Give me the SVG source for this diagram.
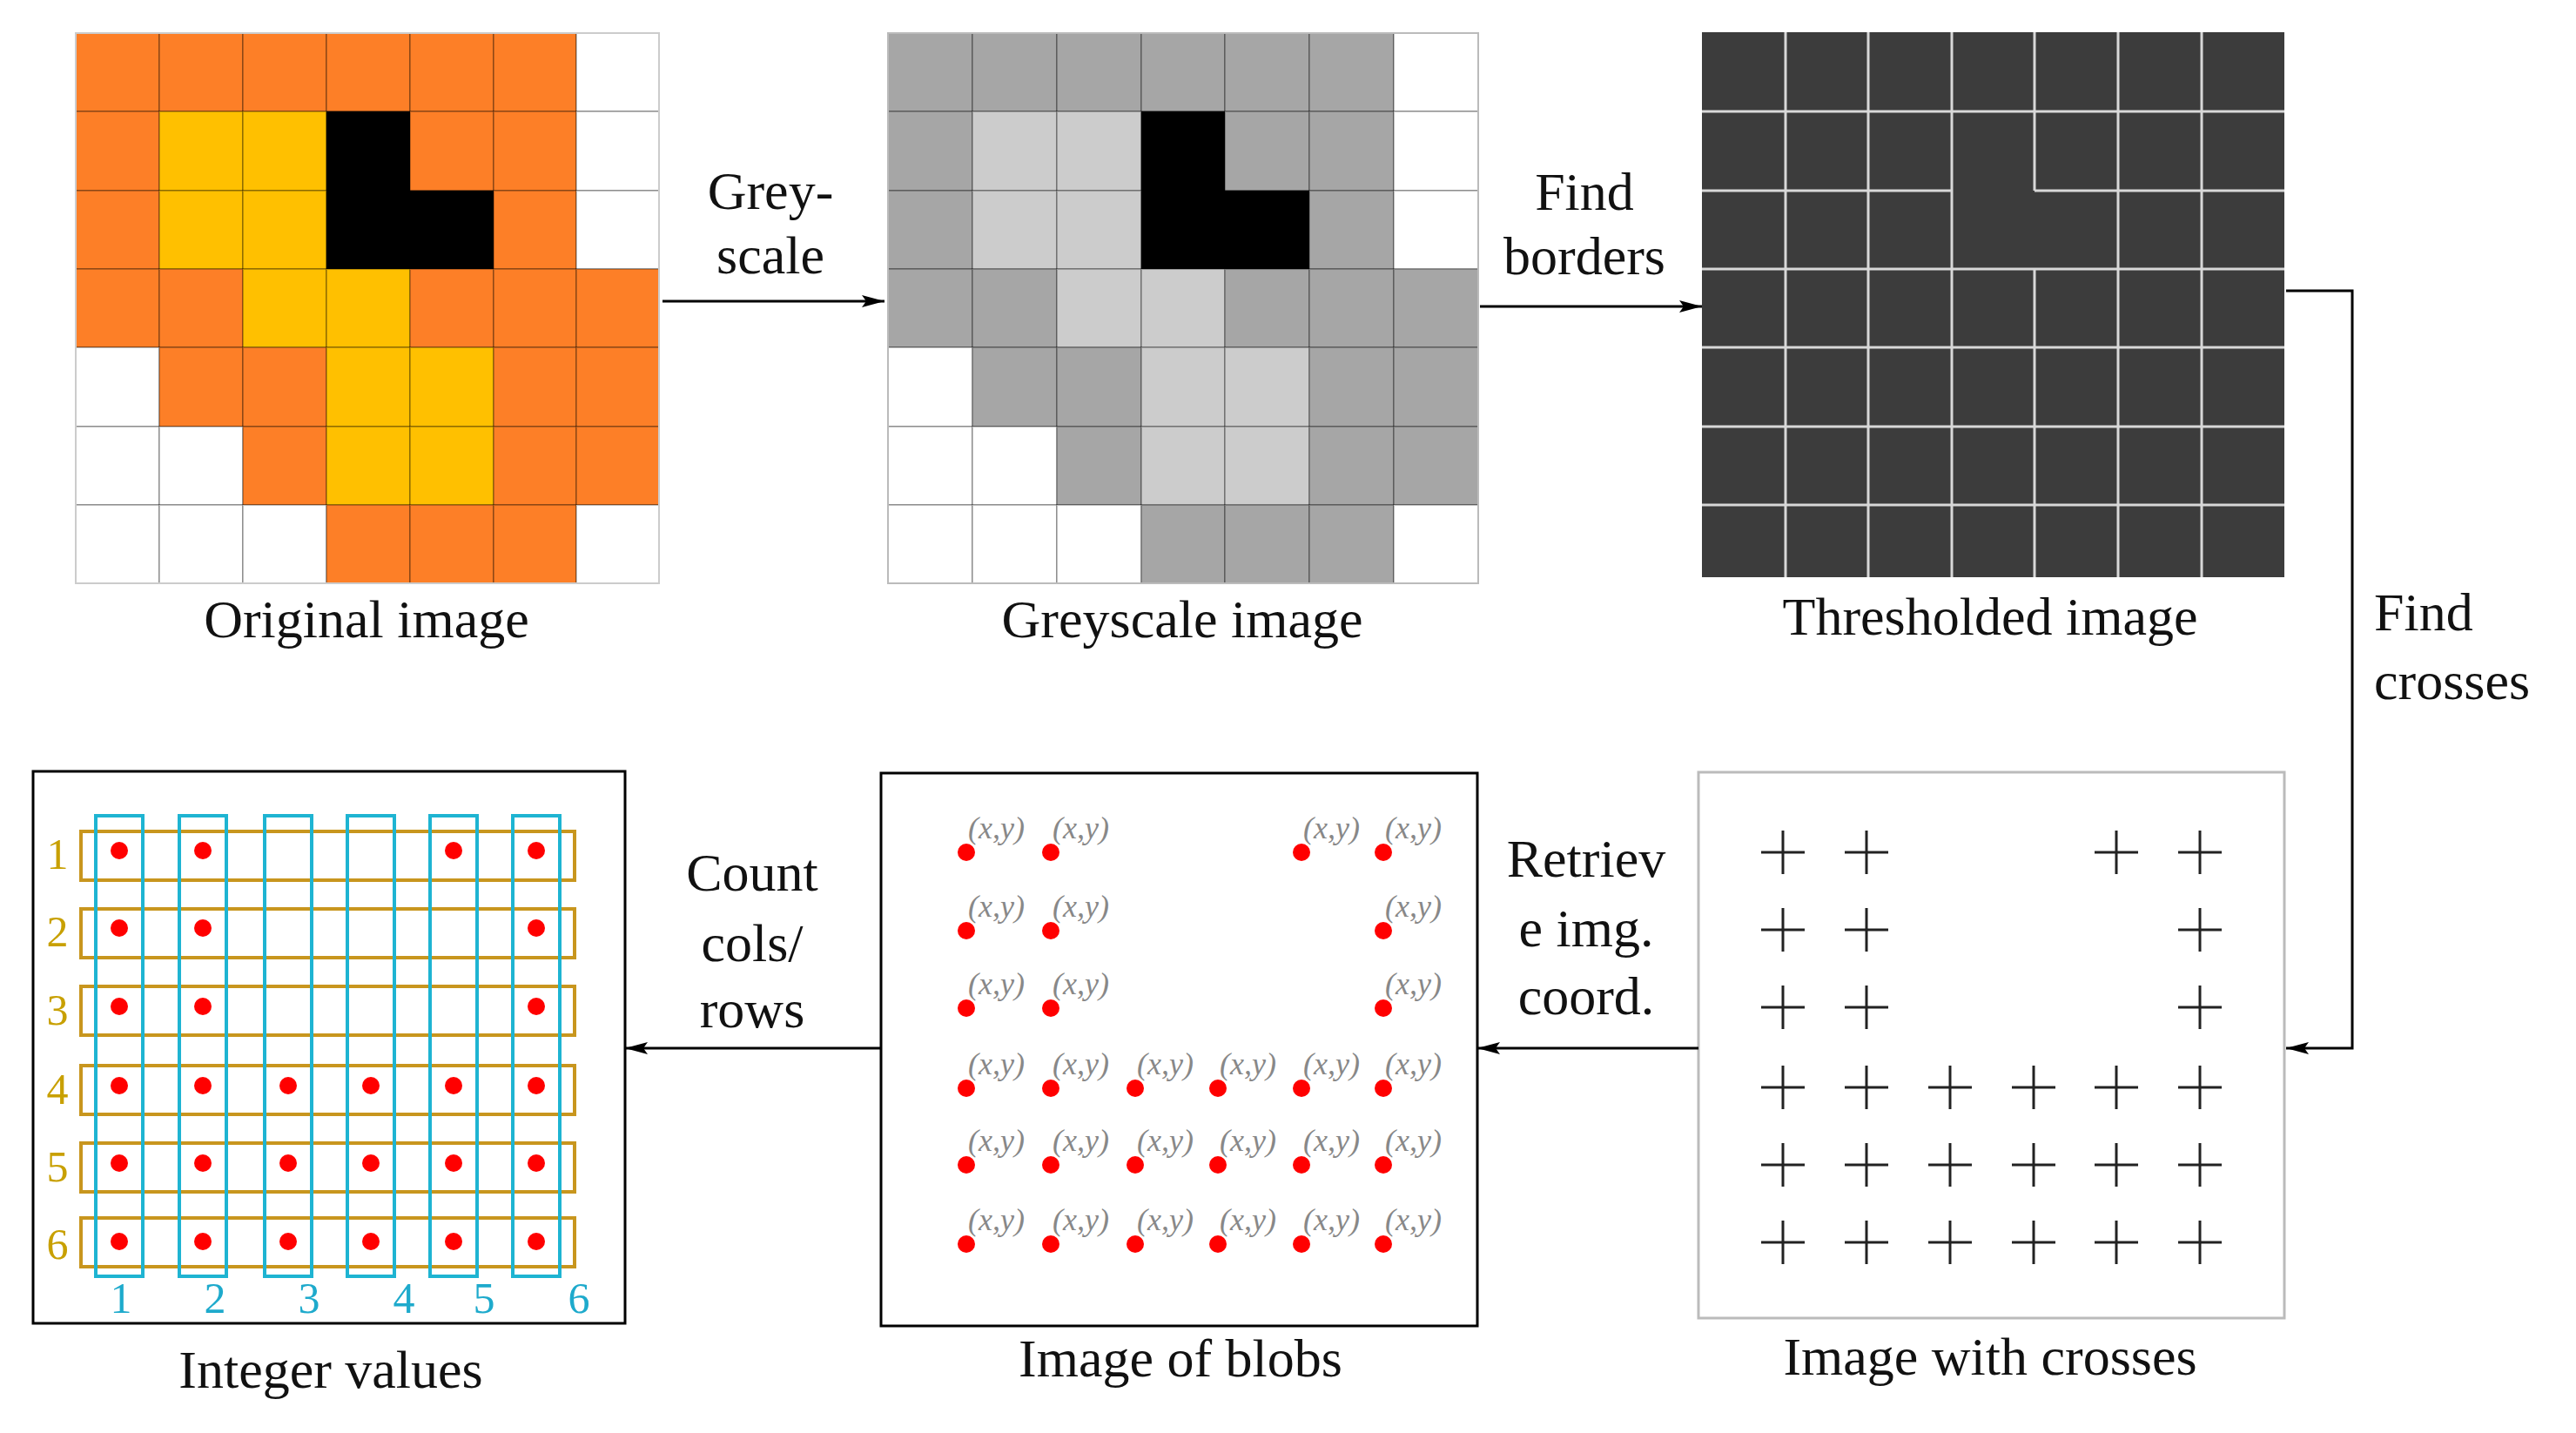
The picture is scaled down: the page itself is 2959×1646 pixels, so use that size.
<svg xmlns="http://www.w3.org/2000/svg" width="2959" height="1646" viewBox="0 0 2959 1646">
<style>
.t{font-family:"Liberation Serif","DejaVu Serif",serif;font-size:62px;fill:#111;text-anchor:middle}
.xy{font-family:"Liberation Serif",serif;font-style:italic;font-size:36px;fill:#888}
.c{stroke:#222;stroke-width:3}
.ln{stroke:#000;stroke-width:3;fill:none}
.O{fill:#fd7f27}.Y{fill:#ffc000}.K{fill:#000}.W{fill:#fff}.G{fill:#a6a6a6}.L{fill:#cccccc}
.cell{stroke:rgba(0,0,0,0.25);stroke-width:2}
.dot{fill:#f00}
.col{fill:none;stroke:#1eb4d2;stroke-width:4}
.row{fill:none;stroke:#c8961e;stroke-width:4}
.rl{font-family:"Liberation Serif",serif;font-size:50px;fill:#c8a000;text-anchor:middle}
.cl{font-family:"Liberation Serif",serif;font-size:50px;fill:#1eaacc;text-anchor:middle}
</style>
<defs>
<marker id="ah" viewBox="0 0 10 10" refX="10" refY="5" markerWidth="10" markerHeight="8" markerUnits="userSpaceOnUse" orient="auto" style="overflow:visible">
<path d="M0,0 L10,5 L0,10 z" fill="#000" transform="scale(2.6,1.2) translate(-6,0)"/>
</marker>
<marker id="a2" viewBox="0 0 26 14" refX="26" refY="7" markerWidth="26" markerHeight="14" markerUnits="userSpaceOnUse" orient="auto">
<path d="M0,0 L26,7 L0,14 L5,7 z" fill="#000"/>
</marker>
</defs>
<rect width="2959" height="1646" fill="#fff"/>

<g id="original">
<g class="cell">
<rect class="O" x="87" y="38" width="96" height="90"/><rect class="O" x="183" y="38" width="96" height="90"/><rect class="O" x="279" y="38" width="96" height="90"/><rect class="O" x="375" y="38" width="96" height="90"/><rect class="O" x="471" y="38" width="96" height="90"/><rect class="O" x="567" y="38" width="95" height="90"/><rect class="W" x="662" y="38" width="95" height="90"/>
<rect class="O" x="87" y="128" width="96" height="91"/><rect class="Y" x="183" y="128" width="96" height="91"/><rect class="Y" x="279" y="128" width="96" height="91"/><rect class="K" x="375" y="128" width="96" height="91"/><rect class="O" x="471" y="128" width="96" height="91"/><rect class="O" x="567" y="128" width="95" height="91"/><rect class="W" x="662" y="128" width="95" height="91"/>
<rect class="O" x="87" y="219" width="96" height="90"/><rect class="Y" x="183" y="219" width="96" height="90"/><rect class="Y" x="279" y="219" width="96" height="90"/><rect class="K" x="375" y="219" width="96" height="90"/><rect class="K" x="471" y="219" width="96" height="90"/><rect class="O" x="567" y="219" width="95" height="90"/><rect class="W" x="662" y="219" width="95" height="90"/>
<rect class="O" x="87" y="309" width="96" height="90"/><rect class="O" x="183" y="309" width="96" height="90"/><rect class="Y" x="279" y="309" width="96" height="90"/><rect class="Y" x="375" y="309" width="96" height="90"/><rect class="O" x="471" y="309" width="96" height="90"/><rect class="O" x="567" y="309" width="95" height="90"/><rect class="O" x="662" y="309" width="95" height="90"/>
<rect class="W" x="87" y="399" width="96" height="91"/><rect class="O" x="183" y="399" width="96" height="91"/><rect class="O" x="279" y="399" width="96" height="91"/><rect class="Y" x="375" y="399" width="96" height="91"/><rect class="Y" x="471" y="399" width="96" height="91"/><rect class="O" x="567" y="399" width="95" height="91"/><rect class="O" x="662" y="399" width="95" height="91"/>
<rect class="W" x="87" y="490" width="96" height="90"/><rect class="W" x="183" y="490" width="96" height="90"/><rect class="O" x="279" y="490" width="96" height="90"/><rect class="Y" x="375" y="490" width="96" height="90"/><rect class="Y" x="471" y="490" width="96" height="90"/><rect class="O" x="567" y="490" width="95" height="90"/><rect class="O" x="662" y="490" width="95" height="90"/>
<rect class="W" x="87" y="580" width="96" height="90"/><rect class="W" x="183" y="580" width="96" height="90"/><rect class="W" x="279" y="580" width="96" height="90"/><rect class="O" x="375" y="580" width="96" height="90"/><rect class="O" x="471" y="580" width="96" height="90"/><rect class="O" x="567" y="580" width="95" height="90"/><rect class="W" x="662" y="580" width="95" height="90"/>
</g>
<rect x="87" y="38" width="670" height="632" fill="none" stroke="#ccc" stroke-width="2"/>
<text class="t" x="421" y="732">Original image</text>
</g>

<g id="greyscale">
<g class="cell">
<rect class="G" x="1020" y="38" width="97" height="90"/><rect class="G" x="1117" y="38" width="97" height="90"/><rect class="G" x="1214" y="38" width="97" height="90"/><rect class="G" x="1311" y="38" width="96" height="90"/><rect class="G" x="1407" y="38" width="97" height="90"/><rect class="G" x="1504" y="38" width="97" height="90"/><rect class="W" x="1601" y="38" width="97" height="90"/>
<rect class="G" x="1020" y="128" width="97" height="91"/><rect class="L" x="1117" y="128" width="97" height="91"/><rect class="L" x="1214" y="128" width="97" height="91"/><rect class="K" x="1311" y="128" width="96" height="91"/><rect class="G" x="1407" y="128" width="97" height="91"/><rect class="G" x="1504" y="128" width="97" height="91"/><rect class="W" x="1601" y="128" width="97" height="91"/>
<rect class="G" x="1020" y="219" width="97" height="90"/><rect class="L" x="1117" y="219" width="97" height="90"/><rect class="L" x="1214" y="219" width="97" height="90"/><rect class="K" x="1311" y="219" width="96" height="90"/><rect class="K" x="1407" y="219" width="97" height="90"/><rect class="G" x="1504" y="219" width="97" height="90"/><rect class="W" x="1601" y="219" width="97" height="90"/>
<rect class="G" x="1020" y="309" width="97" height="90"/><rect class="G" x="1117" y="309" width="97" height="90"/><rect class="L" x="1214" y="309" width="97" height="90"/><rect class="L" x="1311" y="309" width="96" height="90"/><rect class="G" x="1407" y="309" width="97" height="90"/><rect class="G" x="1504" y="309" width="97" height="90"/><rect class="G" x="1601" y="309" width="97" height="90"/>
<rect class="W" x="1020" y="399" width="97" height="91"/><rect class="G" x="1117" y="399" width="97" height="91"/><rect class="G" x="1214" y="399" width="97" height="91"/><rect class="L" x="1311" y="399" width="96" height="91"/><rect class="L" x="1407" y="399" width="97" height="91"/><rect class="G" x="1504" y="399" width="97" height="91"/><rect class="G" x="1601" y="399" width="97" height="91"/>
<rect class="W" x="1020" y="490" width="97" height="90"/><rect class="W" x="1117" y="490" width="97" height="90"/><rect class="G" x="1214" y="490" width="97" height="90"/><rect class="L" x="1311" y="490" width="96" height="90"/><rect class="L" x="1407" y="490" width="97" height="90"/><rect class="G" x="1504" y="490" width="97" height="90"/><rect class="G" x="1601" y="490" width="97" height="90"/>
<rect class="W" x="1020" y="580" width="97" height="90"/><rect class="W" x="1117" y="580" width="97" height="90"/><rect class="W" x="1214" y="580" width="97" height="90"/><rect class="G" x="1311" y="580" width="96" height="90"/><rect class="G" x="1407" y="580" width="97" height="90"/><rect class="G" x="1504" y="580" width="97" height="90"/><rect class="W" x="1601" y="580" width="97" height="90"/>
</g>
<rect x="1020" y="38" width="678" height="632" fill="none" stroke="#bbb" stroke-width="2"/>
<text class="t" x="1358" y="732">Greyscale image</text>
</g>

<g id="thresholded">
<rect x="1955" y="37" width="669" height="626" fill="#3c3c3c"/>
<g stroke="#d8d8d8" stroke-width="3" fill="none">
<path d="M2051,37V663M2146,37V663M2242,37V663M2433,37V663M2529,37V663M2337,37V219M2337,309V663"/>
<path d="M1955,128H2624M1955,219H2242M2337,219H2624M1955,309H2624M1955,399H2624M1955,490H2624M1955,580H2624"/>
</g>
<text class="t" x="2286" y="729">Thresholded image</text>
</g>

<g id="crosses">
<rect x="1951" y="887" width="673" height="627" fill="#fff" stroke="#bbb" stroke-width="3"/>
<g class="c">
<path d="M2023,979h50M2048,954v50M2119,979h50M2144,954v50M2406,979h50M2431,954v50M2502,979h50M2527,954v50"/>
<path d="M2023,1068h50M2048,1043v50M2119,1068h50M2144,1043v50M2502,1068h50M2527,1043v50"/>
<path d="M2023,1157h50M2048,1132v50M2119,1157h50M2144,1132v50M2502,1157h50M2527,1132v50"/>
<path d="M2023,1249h50M2048,1224v50M2119,1249h50M2144,1224v50M2215,1249h50M2240,1224v50M2311,1249h50M2336,1224v50M2406,1249h50M2431,1224v50M2502,1249h50M2527,1224v50"/>
<path d="M2023,1338h50M2048,1313v50M2119,1338h50M2144,1313v50M2215,1338h50M2240,1313v50M2311,1338h50M2336,1313v50M2406,1338h50M2431,1313v50M2502,1338h50M2527,1313v50"/>
<path d="M2023,1427h50M2048,1402v50M2119,1427h50M2144,1402v50M2215,1427h50M2240,1402v50M2311,1427h50M2336,1402v50M2406,1427h50M2431,1402v50M2502,1427h50M2527,1402v50"/>
</g>
<text class="t" x="2286" y="1579">Image with crosses</text>
</g>

<g id="blobs">
<rect x="1012" y="888" width="685" height="635" fill="#fff" stroke="#000" stroke-width="3"/>
<g class="dot">
<circle cx="1110" cy="979" r="10"/><circle cx="1207" cy="979" r="10"/><circle cx="1495" cy="979" r="10"/><circle cx="1589" cy="979" r="10"/>
<circle cx="1110" cy="1069" r="10"/><circle cx="1207" cy="1069" r="10"/><circle cx="1589" cy="1069" r="10"/>
<circle cx="1110" cy="1158" r="10"/><circle cx="1207" cy="1158" r="10"/><circle cx="1589" cy="1158" r="10"/>
<circle cx="1110" cy="1250" r="10"/><circle cx="1207" cy="1250" r="10"/><circle cx="1304" cy="1250" r="10"/><circle cx="1399" cy="1250" r="10"/><circle cx="1495" cy="1250" r="10"/><circle cx="1589" cy="1250" r="10"/>
<circle cx="1110" cy="1338" r="10"/><circle cx="1207" cy="1338" r="10"/><circle cx="1304" cy="1338" r="10"/><circle cx="1399" cy="1338" r="10"/><circle cx="1495" cy="1338" r="10"/><circle cx="1589" cy="1338" r="10"/>
<circle cx="1110" cy="1429" r="10"/><circle cx="1207" cy="1429" r="10"/><circle cx="1304" cy="1429" r="10"/><circle cx="1399" cy="1429" r="10"/><circle cx="1495" cy="1429" r="10"/><circle cx="1589" cy="1429" r="10"/>
</g>
<g class="xy">
<text x="1112" y="963">(x,y)</text><text x="1209" y="963">(x,y)</text><text x="1497" y="963">(x,y)</text><text x="1591" y="963">(x,y)</text>
<text x="1112" y="1053">(x,y)</text><text x="1209" y="1053">(x,y)</text><text x="1591" y="1053">(x,y)</text>
<text x="1112" y="1142">(x,y)</text><text x="1209" y="1142">(x,y)</text><text x="1591" y="1142">(x,y)</text>
<text x="1112" y="1234">(x,y)</text><text x="1209" y="1234">(x,y)</text><text x="1306" y="1234">(x,y)</text><text x="1401" y="1234">(x,y)</text><text x="1497" y="1234">(x,y)</text><text x="1591" y="1234">(x,y)</text>
<text x="1112" y="1322">(x,y)</text><text x="1209" y="1322">(x,y)</text><text x="1306" y="1322">(x,y)</text><text x="1401" y="1322">(x,y)</text><text x="1497" y="1322">(x,y)</text><text x="1591" y="1322">(x,y)</text>
<text x="1112" y="1413">(x,y)</text><text x="1209" y="1413">(x,y)</text><text x="1306" y="1413">(x,y)</text><text x="1401" y="1413">(x,y)</text><text x="1497" y="1413">(x,y)</text><text x="1591" y="1413">(x,y)</text>
</g>
<text class="t" x="1356" y="1581">Image of blobs</text>
</g>

<g id="integer">
<rect x="38" y="886" width="680" height="634" fill="#fff" stroke="#000" stroke-width="3"/>
<g class="row">
<rect x="93" y="955" width="567" height="56"/><rect x="93" y="1044" width="567" height="56"/><rect x="93" y="1133" width="567" height="56"/><rect x="93" y="1224" width="567" height="56"/><rect x="93" y="1313" width="567" height="56"/><rect x="93" y="1399" width="567" height="56"/>
</g>
<g class="col">
<rect x="110" y="937" width="54" height="529"/><rect x="206" y="937" width="54" height="529"/><rect x="304" y="937" width="54" height="529"/><rect x="399" y="937" width="54" height="529"/><rect x="494" y="937" width="54" height="529"/><rect x="589" y="937" width="54" height="529"/>
</g>
<g class="dot">
<circle cx="137" cy="977" r="10"/><circle cx="233" cy="977" r="10"/><circle cx="521" cy="977" r="10"/><circle cx="616" cy="977" r="10"/>
<circle cx="137" cy="1066" r="10"/><circle cx="233" cy="1066" r="10"/><circle cx="616" cy="1066" r="10"/>
<circle cx="137" cy="1156" r="10"/><circle cx="233" cy="1156" r="10"/><circle cx="616" cy="1156" r="10"/>
<circle cx="137" cy="1247" r="10"/><circle cx="233" cy="1247" r="10"/><circle cx="331" cy="1247" r="10"/><circle cx="426" cy="1247" r="10"/><circle cx="521" cy="1247" r="10"/><circle cx="616" cy="1247" r="10"/>
<circle cx="137" cy="1336" r="10"/><circle cx="233" cy="1336" r="10"/><circle cx="331" cy="1336" r="10"/><circle cx="426" cy="1336" r="10"/><circle cx="521" cy="1336" r="10"/><circle cx="616" cy="1336" r="10"/>
<circle cx="137" cy="1426" r="10"/><circle cx="233" cy="1426" r="10"/><circle cx="331" cy="1426" r="10"/><circle cx="426" cy="1426" r="10"/><circle cx="521" cy="1426" r="10"/><circle cx="616" cy="1426" r="10"/>
</g>
<g class="rl">
<text x="66" y="998">1</text><text x="66" y="1087">2</text><text x="66" y="1177">3</text><text x="66" y="1268">4</text><text x="66" y="1357">5</text><text x="66" y="1446">6</text>
</g>
<g class="cl">
<text x="139" y="1508">1</text><text x="247" y="1508">2</text><text x="355" y="1508">3</text><text x="464" y="1508">4</text><text x="556" y="1508">5</text><text x="665" y="1508">6</text>
</g>
<text class="t" x="380" y="1594">Integer values</text>
</g>

<g id="connectors">
<path class="ln" d="M761,346H1016" marker-end="url(#a2)"/>
<path class="ln" d="M1700,352H1955" marker-end="url(#a2)"/>
<path class="ln" d="M2626,334H2702V1204H2626" marker-end="url(#a2)"/>
<path class="ln" d="M1951,1204H1697" marker-end="url(#a2)"/>
<path class="ln" d="M1012,1204H718" marker-end="url(#a2)"/>
<text class="t" x="885" y="240">Grey-</text><text class="t" x="885" y="314">scale</text>
<text class="t" x="1820" y="241">Find</text><text class="t" x="1820" y="315">borders</text>
<text class="t" x="2727" y="724" style="text-anchor:start">Find</text><text class="t" x="2727" y="803" style="text-anchor:start">crosses</text>
<text class="t" x="1822" y="1007">Retriev</text><text class="t" x="1822" y="1087">e img.</text><text class="t" x="1822" y="1165">coord.</text>
<text class="t" x="864" y="1023">Count</text><text class="t" x="864" y="1104">cols/</text><text class="t" x="864" y="1180">rows</text>
</g>
</svg>
